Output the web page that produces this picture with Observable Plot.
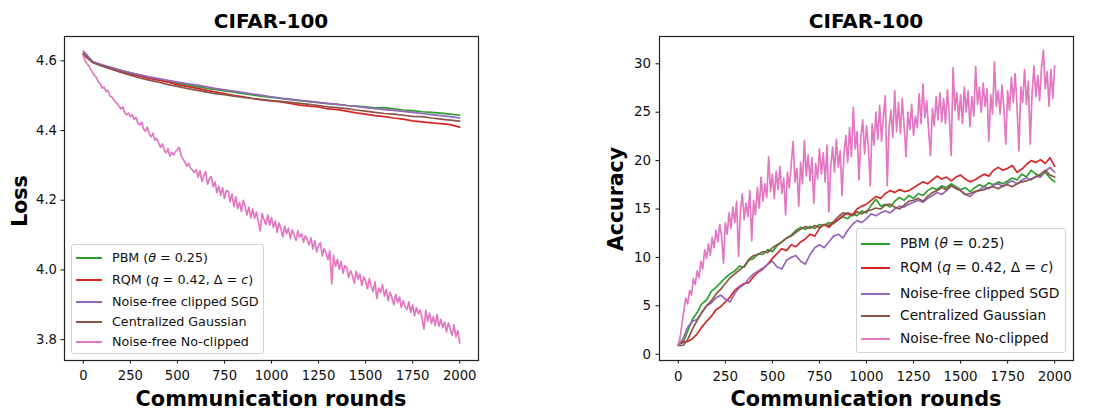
<!DOCTYPE html>
<html><head><meta charset="utf-8">
<script src="https://cdn.jsdelivr.net/npm/d3@7"></script>
<script src="https://cdn.jsdelivr.net/npm/@observablehq/plot@0.6"></script>
<style>
body{margin:0;background:#fff;}
#wrap{position:relative;width:1102px;height:414px;font-family:"DejaVu Sans",sans-serif;overflow:hidden;background:#fff}
.panel{position:absolute;top:0}
#overlay{position:absolute;left:0;top:0;pointer-events:none}
.legend{position:absolute;border:1px solid #d3d3d3;border-radius:3px;background:rgba(255,255,255,0.8);box-sizing:border-box;color:#111}
.legend .row{position:absolute;left:0;height:0}
.legend .h{position:absolute;height:1.7px;top:-0.85px}
.legend .t{position:absolute;white-space:nowrap;transform:translateY(-50%);line-height:1}
</style></head>
<body><div id="wrap"></div>
<script>
// ---------------- data ----------------
const seriesNames = ["PBM", "RQM", "Noise-free clipped SGD", "Centralized Gaussian", "Noise-free No-clipped"];
const seriesColors = ["#2ca02c", "#d62728", "#9467bd", "#8c564b", "#e377c2"];
const xTicks = [0, 250, 500, 750, 1000, 1250, 1500, 1750, 2000];
const lossTicks = [3.8, 4.0, 4.2, 4.4, 4.6];
const accTicks = [0, 5, 10, 15, 20, 25, 30];
const panelTitle = "CIFAR-100";
const xLabel = "Communication rounds";

// Loss, smooth series: one value every 50 rounds
const lossStep = 50;
const lossPBM = [
 4.622, 4.597, 4.588, 4.580, 4.573, 4.566, 4.559, 4.553, 4.547, 4.541,
 4.536, 4.531, 4.527, 4.522, 4.518, 4.514, 4.510, 4.506, 4.502, 4.498,
 4.495, 4.492, 4.489, 4.486, 4.483, 4.480, 4.477, 4.475, 4.472, 4.470,
 4.468, 4.465, 4.466, 4.462, 4.459, 4.457, 4.454, 4.452, 4.450, 4.447,
 4.444];
const lossRQM = [
 4.620, 4.596, 4.586, 4.577, 4.569, 4.562, 4.556, 4.550, 4.545, 4.539,
 4.532, 4.527, 4.522, 4.516, 4.511, 4.506, 4.501, 4.497, 4.492, 4.488,
 4.485, 4.482, 4.478, 4.473, 4.470, 4.468, 4.462, 4.460, 4.456, 4.451,
 4.447, 4.443, 4.440, 4.436, 4.433, 4.428, 4.425, 4.422, 4.420, 4.417,
 4.410];
const lossClip = [
 4.628, 4.598, 4.589, 4.581, 4.573, 4.566, 4.560, 4.554, 4.549, 4.544,
 4.539, 4.535, 4.531, 4.526, 4.521, 4.517, 4.513, 4.509, 4.505, 4.501,
 4.497, 4.493, 4.490, 4.487, 4.484, 4.481, 4.478, 4.475, 4.472, 4.469,
 4.466, 4.463, 4.460, 4.458, 4.455, 4.452, 4.449, 4.446, 4.443, 4.440,
 4.436];
const lossGauss = [
 4.618, 4.595, 4.585, 4.576, 4.567, 4.559, 4.551, 4.545, 4.539, 4.532,
 4.527, 4.521, 4.516, 4.511, 4.506, 4.503, 4.499, 4.495, 4.492, 4.489,
 4.486, 4.484, 4.481, 4.478, 4.475, 4.472, 4.468, 4.466, 4.463, 4.459,
 4.456, 4.452, 4.449, 4.447, 4.444, 4.441, 4.440, 4.436, 4.433, 4.430,
 4.427];
// Loss, noisy series: one value every 10 rounds
const fineStep = 10;
const lossNoClip = [
 4.615, 4.600, 4.592, 4.585, 4.575, 4.566, 4.558, 4.552, 4.540, 4.534,
 4.522, 4.525, 4.512, 4.516, 4.500, 4.497, 4.490, 4.483, 4.477, 4.470,
 4.462, 4.468, 4.452, 4.445, 4.450, 4.440, 4.446, 4.432, 4.438, 4.422,
 4.416, 4.424, 4.405, 4.398, 4.410, 4.390, 4.382, 4.392, 4.372, 4.378,
 4.365, 4.352, 4.362, 4.345, 4.336, 4.348, 4.326, 4.338, 4.330, 4.340,
 4.345, 4.352, 4.328, 4.318, 4.310, 4.298, 4.306, 4.292, 4.287, 4.280,
 4.288, 4.266, 4.285, 4.254, 4.270, 4.282, 4.246, 4.262, 4.268, 4.238,
 4.252, 4.222, 4.240, 4.214, 4.236, 4.205, 4.228, 4.226, 4.196, 4.218,
 4.182, 4.210, 4.176, 4.194, 4.168, 4.200, 4.182, 4.158, 4.180, 4.150,
 4.175, 4.148, 4.166, 4.140, 4.112, 4.162, 4.145, 4.130, 4.158, 4.128,
 4.150, 4.122, 4.140, 4.108, 4.135, 4.118, 4.095, 4.126, 4.104, 4.120,
 4.090, 4.115, 4.102, 4.085, 4.112, 4.094, 4.104, 4.080, 4.098, 4.086,
 4.072, 4.092, 4.060, 4.084, 4.052, 4.070, 4.078, 4.040, 4.062, 4.048,
 4.030, 4.055, 3.960, 4.042, 4.010, 4.030, 4.002, 4.024, 3.990, 4.012,
 4.006, 3.978, 3.998, 3.984, 3.962, 3.996, 3.974, 3.988, 3.955, 3.980,
 3.968, 3.946, 3.975, 3.952, 3.938, 3.966, 3.918, 3.948, 3.935, 3.958,
 3.925, 3.944, 3.912, 3.936, 3.920, 3.900, 3.930, 3.906, 3.922, 3.892,
 3.912, 3.894, 3.886, 3.908, 3.878, 3.900, 3.868, 3.892, 3.874, 3.885,
 3.862, 3.830, 3.884, 3.852, 3.876, 3.846, 3.866, 3.840, 3.872, 3.838,
 3.858, 3.834, 3.850, 3.822, 3.848, 3.830, 3.812, 3.842, 3.808, 3.826,
 3.790];

// Accuracy, smoother series: one value every 25 rounds
const accStep = 25;
const accPBM = [
 1.0, 1.2, 2.4, 3.6, 4.3, 5.2, 5.6, 6.5, 6.9, 7.4,
 7.9, 8.3, 8.6, 9.1, 9.0, 9.7, 9.9, 10.4, 10.3, 10.8,
 10.6, 11.2, 11.6, 12.0, 12.3, 12.8, 13.1, 12.9, 13.2, 13.0,
 13.4, 13.3, 13.6, 13.5, 13.9, 14.2, 14.0, 14.5, 14.3, 14.8,
 14.6, 15.4, 16.0, 15.3, 15.5, 15.2, 15.8, 16.2, 15.9, 16.4,
 16.1, 16.6, 16.4, 16.9, 17.2, 17.0, 17.4, 17.2, 17.6, 17.3,
 17.0, 17.2, 16.8, 17.2, 17.5, 17.3, 17.7, 17.5, 17.8, 17.6,
 17.9, 18.2, 18.0, 18.6, 18.3, 19.0, 18.6, 18.4, 18.8, 18.2,
 17.8];
const accRQM = [
 1.0, 1.3, 1.3, 1.6, 2.1, 2.8, 3.4, 3.9, 4.6, 4.9,
 5.4, 5.9, 6.6, 7.0, 7.3, 7.4, 8.0, 8.5, 8.8, 9.3,
 9.9, 10.4, 10.9, 10.7, 11.3, 11.1, 11.6, 11.9, 12.4, 12.2,
 13.0, 13.4, 13.1, 13.6, 13.9, 14.3, 14.6, 14.4, 15.0, 15.3,
 15.5, 15.9, 16.3, 16.1, 16.6, 16.9, 16.7, 17.0, 16.8, 16.9,
 17.2, 17.5, 17.8, 17.6, 18.0, 18.4, 18.1, 18.3, 17.9, 18.3,
 18.5, 18.1, 17.8, 18.0, 18.3, 18.6, 18.4, 19.0, 19.3, 19.0,
 19.2, 19.5, 18.8, 19.1, 19.6, 20.0, 19.8, 20.1, 19.7, 20.3,
 19.4];
const accClip = [
 1.0, 1.6, 2.8, 3.4, 3.6, 4.3, 5.0, 5.3, 5.8, 6.1,
 5.7, 5.4, 6.3, 6.9, 7.2, 7.8, 8.3, 8.6, 8.9, 9.3,
 9.6, 9.0, 8.8, 9.7, 10.0, 10.2, 9.6, 9.3, 10.3, 11.0,
 11.3, 11.0, 11.6, 12.2, 12.4, 12.0, 12.8, 13.4, 13.8, 13.6,
 14.0, 14.5, 14.3, 14.6, 14.8, 14.6, 15.0, 15.3, 15.2, 15.5,
 15.7, 15.9, 15.7, 16.1, 16.4, 16.7, 16.5, 16.9, 17.4, 17.1,
 16.9, 16.5, 16.3, 16.7, 17.0, 17.3, 17.1, 17.5, 17.6, 17.3,
 17.7, 17.9, 17.6, 18.0, 18.2, 18.0, 18.4, 18.3, 18.9, 19.3,
 18.8];
const accGauss = [
 0.9, 0.9, 1.5, 2.6, 3.5, 4.3, 5.0, 5.5, 6.2, 6.7,
 7.3, 7.9, 8.3, 8.7, 9.1, 9.8, 10.2, 10.3, 10.6, 10.5,
 11.0, 11.3, 11.6, 12.0, 12.2, 12.6, 12.9, 13.2, 13.0, 13.3,
 13.1, 13.4, 13.3, 13.7, 14.2, 14.6, 14.5, 14.3, 14.7, 14.5,
 14.8, 14.9, 15.1, 15.0, 15.4, 15.5, 15.2, 15.0, 15.4, 15.8,
 15.9, 16.1, 15.8, 16.3, 16.7, 16.9, 17.2, 17.0, 17.4, 17.2,
 16.9, 16.5, 16.6, 16.8, 16.9, 17.0, 17.2, 17.3, 17.1, 17.4,
 17.5, 17.3, 17.6, 17.8, 17.9, 18.1, 18.3, 18.6, 19.0, 18.5,
 18.3];
// Accuracy, noisy series: one value every 10 rounds
const accNoClip = [
 1.0, 1.8, 3.2, 4.6, 5.8, 5.2, 6.6, 6.1, 7.8, 7.2,
 8.6, 7.9, 9.6, 8.8, 10.8, 9.9, 11.4, 10.2, 12.1, 11.0,
 12.8, 11.6, 13.4, 12.2, 9.4, 13.6, 12.4, 14.6, 13.0, 15.2,
 13.6, 15.8, 10.1, 14.8, 16.6, 13.9, 15.6, 14.2, 16.9, 11.7,
 15.9, 14.4, 17.2, 15.1, 18.3, 15.8, 17.6, 16.2, 20.4, 16.8,
 18.6, 16.1, 18.9, 17.0, 19.4, 16.6, 18.2, 14.4, 18.8, 17.2,
 19.6, 22.0, 17.8, 19.2, 15.3, 19.8, 17.6, 22.1, 18.4, 20.6,
 17.9, 20.3, 15.6, 19.7, 18.1, 21.2, 18.6, 20.8, 17.8, 21.6,
 14.7, 19.4, 21.4, 18.8, 22.2, 19.3, 21.0, 16.4, 20.6, 22.6,
 19.8, 23.4, 20.4, 25.5, 21.2, 23.0, 18.0, 22.4, 24.2, 20.7,
 23.6, 21.4, 17.4, 23.8, 21.6, 25.0, 22.2, 25.7, 22.0, 24.6,
 26.7, 17.4, 23.4, 25.2, 22.4, 27.2, 23.0, 26.0, 22.8, 26.4,
 23.6, 20.4, 25.0, 23.2, 25.8, 22.6, 24.6, 23.4, 26.9, 23.8,
 27.9, 24.4, 26.2, 23.2, 20.5, 25.4, 23.6, 26.6, 24.2, 27.0,
 24.0, 26.4, 23.8, 27.3, 24.6, 20.5, 29.6, 25.2, 27.0, 24.2,
 26.8, 23.8, 27.6, 25.0, 27.2, 23.5, 26.6, 24.6, 29.7, 25.8,
 27.6, 25.0, 28.0, 25.6, 27.4, 22.0, 26.8, 24.8, 30.2, 25.6,
 27.2, 24.8, 27.8, 25.4, 21.7, 27.2, 25.2, 28.6, 26.0, 29.0,
 25.6, 21.0, 27.6, 26.0, 29.4, 25.8, 28.2, 21.7, 27.0, 29.8,
 26.6, 28.8, 26.2, 29.6, 31.4, 27.4, 29.2, 25.6, 29.4, 26.4,
 29.8];

// ---------------- build ----------------
function rows(values, step, name) {
  return values.map((v, i) => ({round: i * step, value: v, series: name}));
}
const lossData = [
  ...rows(lossPBM, lossStep, seriesNames[0]),
  ...rows(lossRQM, lossStep, seriesNames[1]),
  ...rows(lossClip, lossStep, seriesNames[2]),
  ...rows(lossGauss, lossStep, seriesNames[3]),
  ...rows(lossNoClip, fineStep, seriesNames[4])
];
const accData = [
  ...rows(accPBM, accStep, seriesNames[0]),
  ...rows(accRQM, accStep, seriesNames[1]),
  ...rows(accClip, accStep, seriesNames[2]),
  ...rows(accGauss, accStep, seriesNames[3]),
  ...rows(accNoClip, fineStep, seriesNames[4])
];

function panel(data, opts) {
  return Plot.plot({
    width: 551, height: 414,
    marginLeft: opts.ml, marginRight: opts.mr, marginTop: 36, marginBottom: 54,
    style: {fontFamily: "'DejaVu Sans', sans-serif", fontSize: opts.fs + "px", color: "#111", background: "transparent"},
    x: {domain: [-100, 2100], label: null},
    y: {domain: opts.ydom, label: null},
    color: {domain: seriesNames, range: seriesColors},
    marks: [
      Plot.line(data, {x: "round", y: "value", z: "series", stroke: "series", strokeWidth: 1.7}),
      Plot.frame({stroke: "#222", strokeWidth: 1.2}),
      Plot.axisX({ticks: xTicks, tickSize: 3.5, tickPadding: 7, tickFormat: d3.format("d"), label: null}),
      Plot.axisY({ticks: opts.yticks, tickSize: 3.5, tickPadding: opts.tp, tickFormat: opts.yfmt, label: null})
    ]
  });
}

const wrap = document.getElementById("wrap");
const left = panel(lossData, {ml: 64, mr: 73, fs: 13.2, ydom: [3.74, 4.67], yticks: lossTicks, yfmt: d3.format(".1f"), tp: 4});
left.classList.add("panel"); left.style.left = "0px";
wrap.appendChild(left);
const right = panel(accData, {ml: 108, mr: 29, fs: 13.4, ydom: [-0.65, 32.82], yticks: accTicks, yfmt: d3.format("d"), tp: 5});
right.classList.add("panel"); right.style.left = "551px";
wrap.appendChild(right);

// titles and axis labels
const ns = "http://www.w3.org/2000/svg";
const ov = document.createElementNS(ns, "svg");
ov.setAttribute("id", "overlay"); ov.setAttribute("width", 1102); ov.setAttribute("height", 414);
function txt(s, x, y, size, rot) {
  const t = document.createElementNS(ns, "text");
  t.textContent = s;
  t.setAttribute("text-anchor", "middle");
  t.setAttribute("font-family", "'DejaVu Sans', sans-serif");
  t.setAttribute("font-weight", "bold");
  t.setAttribute("font-size", size);
  t.setAttribute("fill", "#000");
  t.setAttribute("transform", `translate(${x},${y})` + (rot ? " rotate(-90)" : ""));
  ov.appendChild(t);
}
txt(panelTitle, 271, 27.5, 20, false);
txt(panelTitle, 866, 27.5, 20, false);
txt(xLabel, 271, 405.5, 20.8, false);
txt(xLabel, 866, 405.5, 20.8, false);
txt("Loss", 26.7, 201, 20.5, true);
txt("Accuracy", 623, 199, 20.5, true);
wrap.appendChild(ov);

// legends
const labelsHTML = [
  "PBM (<i>θ</i> = 0.25)",
  "RQM (<i>q</i> = 0.42, Δ = <i>c</i>)",
  "Noise-free clipped SGD",
  "Centralized Gaussian",
  "Noise-free No-clipped"
];
function legend(box) {
  const d = document.createElement("div");
  d.className = "legend";
  Object.assign(d.style, {left: box.x + "px", top: box.y + "px", width: box.w + "px", height: box.h + "px", fontSize: box.fs + "px"});
  labelsHTML.forEach((lab, i) => {
    const r = document.createElement("div");
    r.className = "row"; r.style.top = box.rows[i] + "px"; r.style.width = "100%";
    const h = document.createElement("div");
    h.className = "h"; h.style.left = box.hx + "px"; h.style.width = box.hw + "px";
    h.style.background = seriesColors[i];
    const t = document.createElement("div");
    t.className = "t"; t.style.left = box.tx + "px"; t.innerHTML = lab;
    r.appendChild(h); r.appendChild(t); d.appendChild(r);
  });
  wrap.appendChild(d);
}
legend({x: 71, y: 244, w: 193, h: 110, fs: 12.7, hx: 4, hw: 26, tx: 40, rows: [12.7, 35.3, 57, 77, 96.7]});
legend({x: 856, y: 228, w: 210, h: 125, fs: 13.8, hx: 4, hw: 29, tx: 43, rows: [14.7, 38.7, 64.7, 87.3, 110]});
</script></body></html>
